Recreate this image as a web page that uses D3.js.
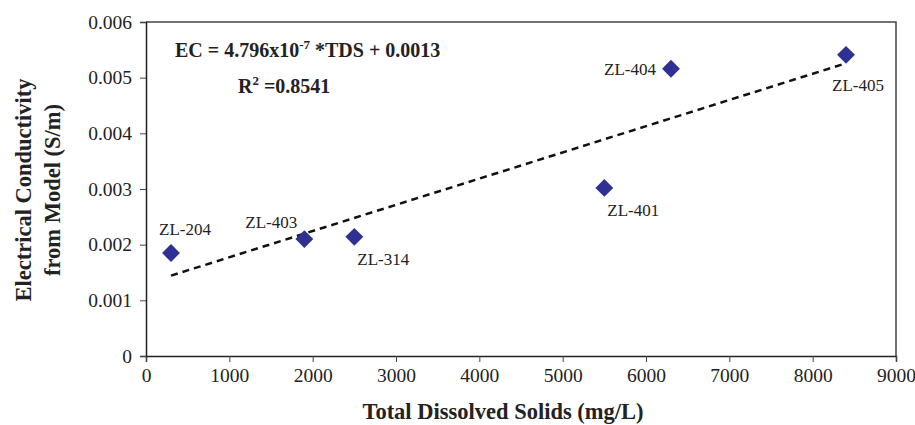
<!DOCTYPE html>
<html>
<head>
<meta charset="utf-8">
<script src="https://cdn.jsdelivr.net/npm/d3@7"></script>
<style>
  body { margin: 0; background: #fff; }
  text { font-family: "Liberation Serif", "Times New Roman", serif; fill: #222; }
</style>
</head>
<body>
<script>
// data
var wells = ["ZL-204", "ZL-403", "ZL-314", "ZL-401", "ZL-404", "ZL-405"];
var tds   = [300, 1900, 2500, 5500, 6300, 8400];
var ec    = [0.00185, 0.0021, 0.00214, 0.00302, 0.00516, 0.00541];
var xTicks = [0, 1000, 2000, 3000, 4000, 5000, 6000, 7000, 8000, 9000];
var yTicks = [0, 0.001, 0.002, 0.003, 0.004, 0.005, 0.006];
// fitted line, from the equation shown on the chart
var slope = 4.796e-7, intercept = 0.0013;

// label offsets (dx, dy) relative to each point
var labelPos = [[-12, -24], [-59, -17], [3, 22], [3, 22], [-67, 0], [-14, 30]];

var margin = {top: 22, right: 19, bottom: 69, left: 146},
    width = 915 - margin.left - margin.right,
    height = 425 - margin.top - margin.bottom;

var svg = d3.select("body").append("svg")
    .attr("width", 915)
    .attr("height", 425)
  .append("g")
    .attr("transform", "translate(" + margin.left + "," + margin.top + ")");

var x = d3.scaleLinear().domain([0, 9000]).range([0, width]);
var y = d3.scaleLinear().domain([0, 0.006]).range([height, 0]);

// frame (top + right)
svg.append("path")
    .attr("d", "M0,0H" + width + "V" + height)
    .attr("fill", "none")
    .attr("stroke", "#444")
    .attr("stroke-width", 1.5);

var xAxis = svg.append("g")
    .attr("transform", "translate(0," + height + ")")
    .call(d3.axisBottom(x).tickValues(xTicks).tickSize(6).tickPadding(6).tickFormat(d3.format("d")));

var yAxis = svg.append("g")
    .call(d3.axisLeft(y).tickValues(yTicks).tickSize(6).tickPadding(8)
      .tickFormat(function(d) { return d === 0 ? "0" : d3.format(".3f")(d); }));

[xAxis, yAxis].forEach(function(a) {
  a.select(".domain").attr("stroke", "#222").attr("stroke-width", 1.5);
  a.selectAll(".tick line").attr("stroke", "#444").attr("stroke-width", 1);
  a.selectAll(".tick text").style("font-size", "19.5px").style("font-family", "Liberation Serif").attr("fill", "#222");
});

// trend line
var xMin = d3.min(tds), xMax = d3.max(tds);
svg.append("line")
    .attr("x1", x(xMin)).attr("y1", y(slope * xMin + intercept))
    .attr("x2", x(xMax)).attr("y2", y(slope * xMax + intercept - 0.00007))
    .attr("stroke", "#111")
    .attr("stroke-width", 2.5)
    .attr("stroke-dasharray", "7,5");

// points
var diamond = d3.symbol().type(d3.symbolSquare).size(160);
svg.selectAll(".pt")
    .data(tds)
  .enter().append("path")
    .attr("class", "pt")
    .attr("d", diamond)
    .attr("transform", function(d, i) { return "translate(" + x(d) + "," + y(ec[i]) + ") rotate(45)"; })
    .attr("fill", "#2e3192");

// point labels
svg.selectAll(".lbl")
    .data(wells)
  .enter().append("text")
    .attr("class", "lbl")
    .attr("x", function(d, i) { return x(tds[i]) + labelPos[i][0]; })
    .attr("y", function(d, i) { return y(ec[i]) + labelPos[i][1]; })
    .attr("dy", "0.35em")
    .style("font-size", "17px")
    .text(function(d) { return d; });

// equation
var eq = svg.append("text")
    .attr("x", 29).attr("y", 35)
    .style("font-size", "20px").style("font-weight", "bold");
eq.append("tspan").text("EC = 4.796x10");
eq.append("tspan").attr("dy", -8).style("font-size", "13px").text("-7");
eq.append("tspan").attr("dy", 8).text(" *TDS + 0.0013");

var r2 = svg.append("text")
    .attr("x", 92).attr("y", 71)
    .style("font-size", "20px").style("font-weight", "bold");
r2.append("tspan").text("R");
r2.append("tspan").attr("dy", -8).style("font-size", "13px").text("2");
r2.append("tspan").attr("dy", 8).text(" =0.8541");

// axis titles
svg.append("text")
    .attr("x", 357)
    .attr("y", height + 63)
    .attr("text-anchor", "middle")
    .style("font-size", "22.5px").style("font-weight", "bold")
    .text("Total Dissolved Solids (mg/L)");

var yt = svg.append("text")
    .attr("transform", "translate(-115," + (height / 2 + 1) + ") rotate(-90)")
    .attr("text-anchor", "middle")
    .style("font-size", "22.5px").style("font-weight", "bold");
yt.append("tspan").attr("x", 0).attr("dy", 0).text("Electrical Conductivity");
yt.append("tspan").attr("x", 0).attr("dy", 29).text("from Model (S/m)");
</script>
</body>
</html>
